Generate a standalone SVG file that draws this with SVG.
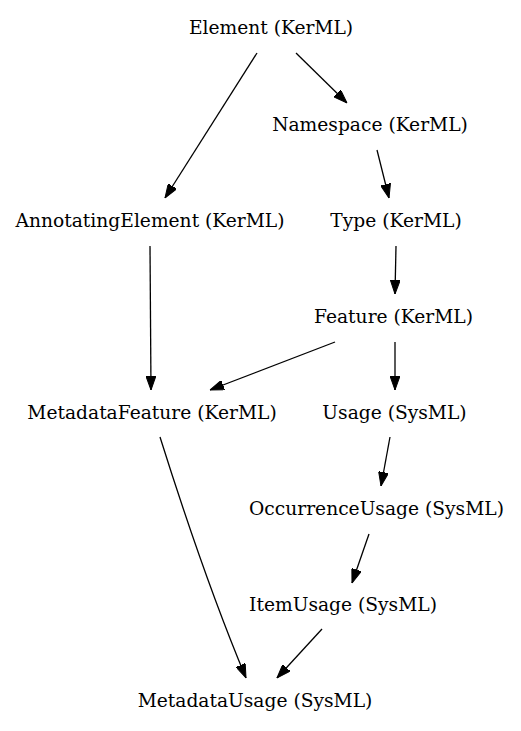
<svg xmlns="http://www.w3.org/2000/svg" width="521" height="731" viewBox="0 0 521 731">
<style>
text{font-family:"DejaVu Serif",serif;font-size:18.67px;fill:#000;text-anchor:middle}
.e{stroke:#000;stroke-width:1.3;fill:none;marker-end:url(#ah)}
</style>
<defs>
<marker id="ah" viewBox="0 0 14 10" refX="14" refY="5" markerUnits="userSpaceOnUse" markerWidth="14" markerHeight="10" orient="auto">
<path d="M0,0 L14,5 L0,10 z" fill="#000" stroke="#000" stroke-width="1"/>
</marker>
</defs>
<rect width="521" height="731" fill="#fff"/>
<g id="connectors">
<path class="e" d="M257,53 L165,198"/>
<path class="e" d="M296,53 L347,103"/>
<path class="e" d="M377,150 L389,198"/>
<path class="e" d="M150,246 L151,390"/>
<path class="e" d="M396,246 L395,294"/>
<path class="e" d="M335,342 L210,390"/>
<path class="e" d="M395,342 L395,390"/>
<path class="e" d="M390,437 L381,486"/>
<path class="e" d="M369,534 L352,583"/>
<path class="e" d="M322,629 L277,678"/>
<path class="e" d="M160,437 Q205,580 246,678"/>
</g>
<g id="n-element"><text x="271" y="34">Element (KerML)</text></g>
<g id="n-namespace"><text x="370" y="131">Namespace (KerML)</text></g>
<g id="n-annotating"><text x="150" y="227">AnnotatingElement (KerML)</text></g>
<g id="n-type"><text x="396" y="227">Type (KerML)</text></g>
<g id="n-feature"><text x="393.5" y="323">Feature (KerML)</text></g>
<g id="n-metadatafeature"><text x="152" y="419">MetadataFeature (KerML)</text></g>
<g id="n-usage"><text x="394.5" y="419">Usage (SysML)</text></g>
<g id="n-occurrence"><text x="376.5" y="515">OccurrenceUsage (SysML)</text></g>
<g id="n-item"><text x="343" y="611">ItemUsage (SysML)</text></g>
<g id="n-metadatausage"><text x="255" y="707">MetadataUsage (SysML)</text></g>
</svg>
